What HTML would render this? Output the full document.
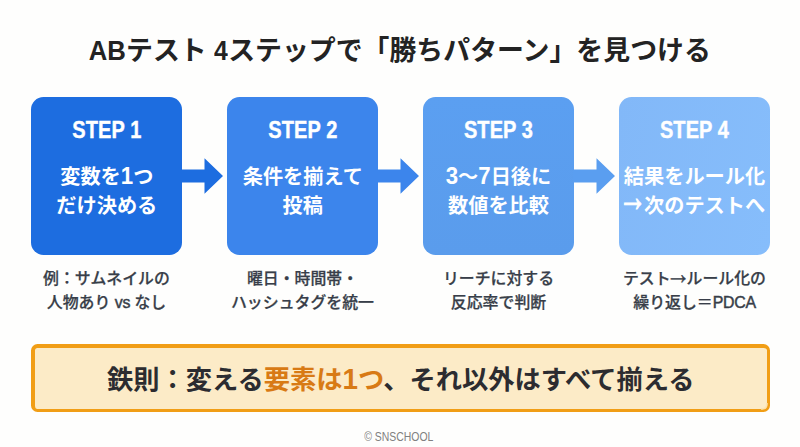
<!DOCTYPE html>
<html lang="ja">
<head>
<meta charset="utf-8">
<title>ABテスト 4ステップ</title>
<style>
*{margin:0;padding:0;box-sizing:border-box}
html,body{width:800px;height:447px;overflow:hidden;background:#fefefd}
body{position:relative;font-family:"Liberation Sans","Noto Sans CJK JP",sans-serif;color:#222}
.l{display:inline-block;transform-origin:50% 78%}
.title{position:absolute;left:-1px;width:800px;top:31px;text-align:center;font-size:26.9px;line-height:40px;font-weight:700;color:#232323;white-space:nowrap}
.box{position:absolute;top:97px;width:151px;height:158px;border-radius:12.5px;color:#fff;text-align:center;font-weight:700}
.b1{left:31.3px;background:#1d6de0}
.b2{left:227.3px;background:#3c85ec}
.b3{left:423px;background:linear-gradient(#5b9ff1,#5a9cec)}
.b4{left:619px;background:linear-gradient(100deg,#82b8f8,#86bdfb)}
.step{position:absolute;left:0;width:100%;top:20px;font-size:20px;line-height:28px;white-space:nowrap}
.step .l{transform:scaleY(1.15);-webkit-text-stroke:0.35px currentColor;letter-spacing:0.1px}
.main{position:absolute;left:-10px;right:-10px;top:66.2px;font-size:20.2px;line-height:28.5px;white-space:nowrap}
.ar{display:inline-block;width:1em;text-align:center;transform:translate(-0.08em,-0.26em) scale(1.38,2.1);transform-origin:50% 62%;-webkit-text-stroke:0.5px currentColor}
.cap{-webkit-text-stroke:0.25px currentColor}
.cap .ar{transform:translate(-0.05em,-0.12em) scale(1.56,1.9);-webkit-text-stroke:0.2px currentColor}
.cap .l{-webkit-text-stroke:0.45px currentColor;letter-spacing:-0.3px}
.ab{transform:scaleX(0.955);transform-origin:100% 50%}
.d{font-size:1.1em;line-height:1px;display:inline-block;transform:scaleY(1.04);transform-origin:50% 80%}
.n4{transform:scaleX(0.92);transform-origin:0 50%;margin-right:-1px}
.banner .d{font-size:1.06em}
.arrow{position:absolute;top:157px;width:43px;height:38px}
.cap{position:absolute;top:267px;width:191px;text-align:center;font-size:15.9px;line-height:24px;color:#383e49;font-weight:500;white-space:nowrap}
.banner{position:absolute;left:30.6px;top:343.5px;width:739.4px;height:68.3px;border:solid #f19e16;border-width:4px 3.9px 3.5px 4px;border-radius:6.5px;background:#fcebc7;text-align:center;font-size:26.25px;line-height:64.6px;font-weight:700;color:#2c2c30;white-space:nowrap}
.banner em{font-style:normal;color:#d87a15}
.nick{position:absolute;left:760.5px;top:402.5px;width:7.5px;height:7.5px;border-radius:0 0 6px 0;border:solid rgba(252,226,170,.75);border-width:0 2.6px 2.6px 0}
.foot{position:absolute;left:-0.8px;width:800px;top:428.5px;text-align:center;font-size:12px;line-height:16px;color:#808080;white-space:nowrap}
.foot .l{transform:scaleX(0.87)}
</style>
</head>
<body>
<div class="title"><span class="l ab">AB</span>テスト <span class="l n4">4</span>ステップで「勝ちパターン」を見つける</div>

<div class="box b1"><div class="step"><span class="l">STEP 1</span></div><div class="main">変数を<span class="d">1</span>つ<br>だけ決める</div></div>
<div class="box b2"><div class="step"><span class="l">STEP 2</span></div><div class="main">条件を揃えて<br>投稿</div></div>
<div class="box b3"><div class="step"><span class="l">STEP 3</span></div><div class="main"><span class="d">3</span>〜<span class="d">7</span>日後に<br>数値を比較</div></div>
<div class="box b4"><div class="step"><span class="l">STEP 4</span></div><div class="main">結果をルール化<br><span class="ar">→</span>次のテストへ</div></div>

<svg class="arrow" style="left:181px" viewBox="0 0 43 38"><path d="M0 12.4H23.5V1.2L42 19L23.5 36.8V25.6H0Z" fill="#1d6de0"/></svg>
<svg class="arrow" style="left:377px" viewBox="0 0 43 38"><path d="M0 12.4H23.5V1.2L42 19L23.5 36.8V25.6H0Z" fill="#3c85ec"/></svg>
<svg class="arrow" style="left:573px" viewBox="0 0 43 38"><path d="M0 12.4H23.5V1.2L42 19L23.5 36.8V25.6H0Z" fill="#5a9ef0"/></svg>

<div class="cap" style="left:11px">例：サムネイルの<br>人物あり <span class="l">vs</span> なし</div>
<div class="cap" style="left:207px">曜日・時間帯・<br>ハッシュタグを統一</div>
<div class="cap" style="left:403px">リーチに対する<br>反応率で判断</div>
<div class="cap" style="left:599px">テスト<span class="ar">→</span>ルール化の<br>繰り返し＝<span class="l">PDCA</span></div>

<div class="banner">鉄則：変える<em>要素は<span class="d">1</span>つ</em>、それ以外はすべて揃える</div>
<div class="nick"></div>
<div class="foot"><span class="l">© SNSCHOOL</span></div>
</body>
</html>
